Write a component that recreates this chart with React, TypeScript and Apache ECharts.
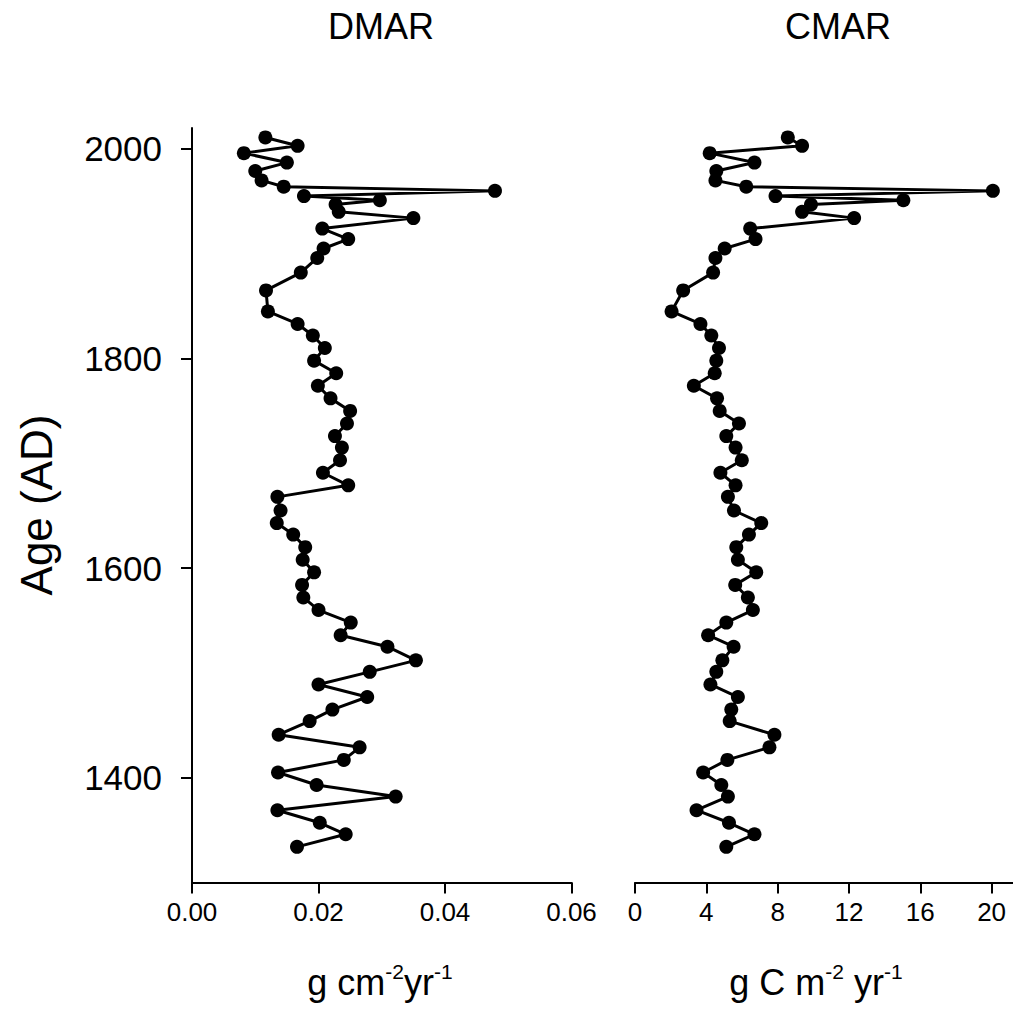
import React, { useEffect, useRef } from "react";
import * as echarts from "echarts";

// Age (AD) of each sample, top to bottom
const ages = [
  2011, 2003, 1996, 1987, 1979, 1970, 1964, 1960, 1955, 1951, 1947, 1940, 1934,
  1924, 1914, 1905, 1896, 1882, 1865, 1845, 1833, 1822, 1810, 1798, 1786, 1774,
  1762, 1750, 1738, 1726, 1715, 1703, 1691, 1679, 1668, 1655, 1643, 1632, 1620,
  1608, 1596, 1584, 1572, 1560, 1548, 1536, 1525, 1512, 1501, 1489, 1477, 1465,
  1454, 1441, 1429, 1417, 1405, 1393, 1382, 1369, 1357, 1346, 1334,
];

// DMAR (g cm-2 yr-1)
const dmar = [
  0.0116, 0.0167, 0.0082, 0.015, 0.01, 0.011, 0.0145, 0.0479, 0.0177, 0.0297,
  0.0227, 0.0232, 0.035, 0.0206, 0.0247, 0.0208, 0.0198, 0.0172, 0.0117, 0.012,
  0.0167, 0.0191, 0.021, 0.0193, 0.0228, 0.0199, 0.0219, 0.025, 0.0245, 0.0226,
  0.0237, 0.0234, 0.0207, 0.0247, 0.0135, 0.014, 0.0134, 0.016, 0.0179, 0.0175,
  0.0193, 0.0174, 0.0176, 0.02, 0.0251, 0.0235, 0.0309, 0.0354, 0.0281, 0.02,
  0.0277, 0.0222, 0.0186, 0.0137, 0.0265, 0.024, 0.0136, 0.0197, 0.0322, 0.0135,
  0.0202, 0.0243, 0.0166,
];

// CMAR (g C m-2 yr-1)
const cmar = [
  8.57, 9.37, 4.19, 6.7, 4.56, 4.51, 6.24, 20.07, 7.88, 15.05, 9.87, 9.37, 12.29,
  6.46, 6.76, 5.03, 4.51, 4.38, 2.7, 2.05, 3.67, 4.28, 4.71, 4.56, 4.47, 3.3, 4.6,
  4.75, 5.83, 5.12, 5.64, 5.99, 4.79, 5.64, 5.21, 5.55, 7.08, 6.39, 5.68, 5.77,
  6.8, 5.62, 6.33, 6.61, 5.12, 4.1, 5.53, 4.9, 4.56, 4.23, 5.77, 5.4, 5.31, 7.82,
  7.54, 5.18, 3.82, 4.84, 5.21, 3.45, 5.27, 6.7, 5.12,
];

const ageTicks = [1400, 1600, 1800, 2000];
const dmarTicks = [0, 0.02, 0.04, 0.06];
const cmarTicks = [0, 4, 8, 12, 16, 20];

const FONT = "Liberation Sans, Arial, sans-serif";

export default function App() {
  const ref = useRef<HTMLDivElement>(null);

  useEffect(() => {
    if (!ref.current) return;
    const chart = echarts.init(ref.current, undefined, { renderer: "svg" });

    const axisLine = { show: true, onZero: false, lineStyle: { color: "#000", width: 2 } };
    const axisTickBase = { show: true, length: 11, lineStyle: { color: "#000", width: 2 } };
    const xLabel = { color: "#000", fontSize: 26, fontFamily: FONT, margin: 16 };

    const lineSeries = (name: string, vals: number[], idx: number) => ({
      name,
      type: "line",
      xAxisIndex: idx,
      yAxisIndex: idx,
      data: vals.map((v, i) => [v, ages[i]]),
      symbol: "circle",
      symbolSize: 14,
      showSymbol: true,
      itemStyle: { color: "#000" },
      lineStyle: { color: "#000", width: 3 },
      silent: true,
    });

    const supRich = {
      a: { fontSize: 36, fontFamily: FONT, color: "#000", lineHeight: 44, verticalAlign: "middle" },
      s: {
        fontSize: 21,
        fontFamily: FONT,
        color: "#000",
        lineHeight: 21,
        verticalAlign: "middle",
        padding: [0, 0, 22, 0],
      },
    };

    chart.setOption({
      animation: false,
      backgroundColor: "#fff",
      grid: [
        { left: 192, top: 128, width: 379.5, height: 754.5 },
        { left: 635, top: 128, width: 380, height: 754.5 },
      ],
      xAxis: [
        {
          gridIndex: 0,
          type: "value",
          min: 0,
          max: 0.06,
          axisLine,
          axisTick: { ...axisTickBase, customValues: dmarTicks },
          axisLabel: { ...xLabel, customValues: dmarTicks, formatter: (v: number) => v.toFixed(2) },
          splitLine: { show: false },
        },
        {
          gridIndex: 1,
          type: "value",
          min: 0,
          max: 21.2,
          axisLine,
          axisTick: { ...axisTickBase, customValues: cmarTicks },
          axisLabel: { ...xLabel, customValues: cmarTicks, formatter: (v: number) => String(v) },
          splitLine: { show: false },
        },
      ],
      yAxis: [
        {
          gridIndex: 0,
          type: "value",
          min: 1300,
          max: 2020,
          axisLine,
          axisTick: { ...axisTickBase, customValues: ageTicks },
          axisLabel: {
            color: "#000",
            fontSize: 35,
            fontFamily: FONT,
            margin: 30,
            customValues: ageTicks,
            formatter: (v: number) => String(v),
          },
          splitLine: { show: false },
        },
        {
          gridIndex: 1,
          type: "value",
          min: 1300,
          max: 2020,
          show: false,
          splitLine: { show: false },
        },
      ],
      series: [lineSeries("DMAR", dmar, 0), lineSeries("CMAR", cmar, 1)],
      graphic: [
        {
          type: "text",
          x: 381,
          y: 26,
          style: { text: "DMAR", fontSize: 36, fontFamily: FONT, fill: "#000", align: "center", verticalAlign: "middle" },
        },
        {
          type: "text",
          x: 838,
          y: 26,
          style: { text: "CMAR", fontSize: 36, fontFamily: FONT, fill: "#000", align: "center", verticalAlign: "middle" },
        },
        {
          type: "text",
          x: 36,
          y: 505,
          rotation: Math.PI / 2,
          style: { text: "Age (AD)", fontSize: 44, fontFamily: FONT, fill: "#000", align: "center", verticalAlign: "middle" },
        },
        {
          type: "text",
          x: 380,
          y: 982,
          style: {
            text: "{a|g cm}{s|-2}{a|yr}{s|-1}",
            rich: supRich,
            align: "center",
            verticalAlign: "middle",
          },
        },
        {
          type: "text",
          x: 816,
          y: 982,
          style: {
            text: "{a|g C m}{s|-2}{a| yr}{s|-1}",
            rich: supRich,
            align: "center",
            verticalAlign: "middle",
          },
        },
      ],
    });

    return () => chart.dispose();
  }, []);

  return (
    <div
      ref={ref}
      style={{ position: "fixed", left: 0, top: 0, width: 1013, height: 1016, background: "#fff" }}
    />
  );
}
